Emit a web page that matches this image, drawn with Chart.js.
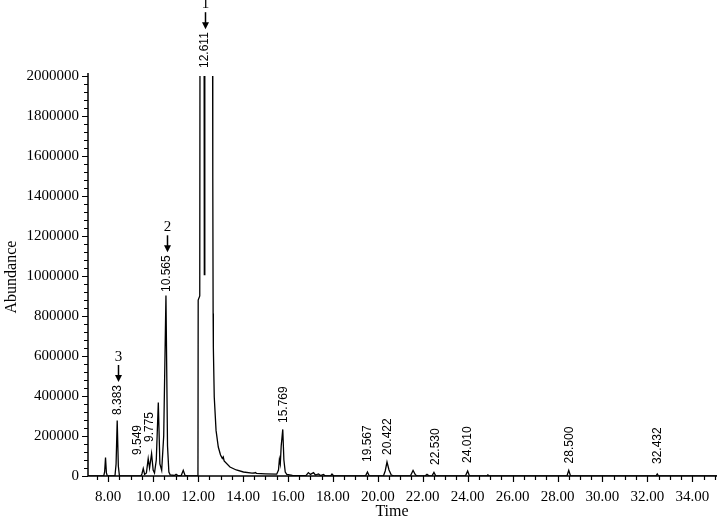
<!DOCTYPE html>
<html>
<head>
<meta charset="utf-8">
<script src="https://cdn.jsdelivr.net/npm/chart.js@4.4.1/dist/chart.umd.min.js"></script>
<style>
  html, body { margin: 0; padding: 0; background: #fff; }
  canvas { display: block; }
</style>
</head>
<body>
<canvas id="chromatogram" width="719" height="526"></canvas>
<script>
// retention time (min) and abundance
var times = [
  7.10, 7.80, 7.84, 7.88, 7.92, 7.96,
  8.30, 8.35, 8.40, 8.45, 8.50,
  9.45, 9.50, 9.56, 9.62, 9.70, 9.78, 9.84, 9.93, 10.00, 10.06, 10.14, 10.23, 10.30, 10.38,
  10.47, 10.57, 10.64, 10.70, 10.76, 10.95, 11.02, 11.10, 11.25, 11.34, 11.42, 11.55,
  11.995, 12.005, 12.075, 12.10, 12.18, 12.255, 12.278, 12.30, 12.45, 12.62, 12.655,
  12.67, 12.68, 12.72, 12.80, 12.90, 13.00, 13.08, 13.12, 13.16, 13.42, 13.70, 14.02,
  14.40, 14.50, 14.55, 14.60, 15.00, 15.50, 15.58, 15.62, 15.66, 15.70, 15.77, 15.82,
  15.88, 15.95, 16.20, 16.80, 16.91, 17.00, 17.06, 17.14, 17.22, 17.36, 17.45, 17.58,
  17.66, 17.90, 17.96, 18.03, 19.45, 19.54, 19.62, 20.25, 20.33, 20.41, 20.50, 20.60,
  20.75, 21.45, 21.57, 21.68, 21.80, 22.10, 22.19, 22.28, 22.42, 22.50, 22.58, 23.90,
  24.00, 24.08, 24.85, 24.90, 24.96, 28.42, 28.50, 28.58, 32.38, 32.44, 32.50, 35.10
];
var abundance = [
  0, 0, 20000, 92000, 15000, 0,
  0, 60000, 278000, 50000, 0,
  0, 10000, 37000, 8000, 15000, 87000, 40000, 112000, 30000, 15000, 80000, 367000, 60000, 28000,
  200000, 903000, 150000, 20000, 5000, 3000, 9000, 2000, 3000, 28000, 3000, 0,
  0, 880000, 900000, 4000000, 5200000, 4000000, 1007000, 4000000, 5500000, 4000000, 1500000,
  813000, 643000, 395000, 228000, 145000, 105000, 88000, 95000, 75000, 45000, 30000, 20000,
  14000, 15000, 17000, 13000, 11000, 9000, 30000, 83000, 60000, 150000, 233000, 80000,
  20000, 8000, 3000, 2000, 17000, 8000, 12000, 17000, 5000, 10000, 2000, 8000,
  1000, 1000, 10000, 1000, 0, 20000, 0, 0, 25000, 70000, 30000, 5000,
  0, 0, 28000, 5000, 0, 0, 8000, 1000, 2000, 18000, 1000, 0,
  25000, 0, 0, 6000, 0, 0, 28000, 0, 0, 10000, 0, 0
];

var xTickValues = [8, 10, 12, 14, 16, 18, 20, 22, 24, 26, 28, 30, 32, 34];
var yTickValues = [0, 200000, 400000, 600000, 800000, 1000000, 1200000, 1400000, 1600000, 1800000, 2000000];

// peak annotations: text, where it sits (time) and the abundance at its lower end
var peakLabels = ["8.383", "9.549", "9.775", "10.565", "12.611", "15.769", "19.567", "20.422", "22.530", "24.010", "28.500", "32.432"];
var peakLabelTimes = [8.42, 9.31, 9.86, 10.62, 12.31, 15.83, 19.56, 20.45, 22.59, 24.00, 28.55, 32.47];
var peakLabelLevels = [305000, 105000, 170000, 920000, 2040000, 265000, 70000, 105000, 55000, 65000, 63000, 60000];
// compound numbers with arrows, by index into peakLabels
var compoundNumbers = ["3", "2", "1"];
var compoundPeaks = [0, 3, 4];

var serif = "'Liberation Serif', 'DejaVu Serif', serif";
var sans = "'Liberation Sans', Arial, sans-serif";

var points = times.map(function (t, i) { return { x: t, y: abundance[i] }; });

var axesPlugin = {
  id: "axesPlugin",
  afterDraw: function (chart) {
    var ctx = chart.ctx;
    var area = chart.chartArea;
    var xs = chart.scales.x;
    var ys = chart.scales.y;
    ctx.save();
    ctx.strokeStyle = "#000";
    ctx.fillStyle = "#000";

    // axis lines
    ctx.lineWidth = 1.5;
    ctx.beginPath();
    ctx.moveTo(area.left, area.top - 3);
    ctx.lineTo(area.left, area.bottom);
    ctx.lineTo(area.right, area.bottom);
    ctx.stroke();

    // ticks, major and minor
    ctx.lineWidth = 1.2;
    ctx.beginPath();
    var v, px, len;
    for (v = 7.5; v <= 35; v += 0.5) {
      px = Math.round(xs.getPixelForValue(v)) + 0.5;
      len = (v % 2 === 0) ? 6 : 4;
      ctx.moveTo(px, area.bottom);
      ctx.lineTo(px, area.bottom + len);
    }
    for (v = 0; v <= 2000000; v += 40000) {
      px = Math.round(ys.getPixelForValue(v)) + 0.5;
      len = (v % 200000 === 0) ? 6 : 4;
      ctx.moveTo(area.left, px);
      ctx.lineTo(area.left - len, px);
    }
    ctx.stroke();

    // axis titles
    ctx.font = "16px " + serif;
    ctx.textAlign = "center";
    ctx.textBaseline = "middle";
    ctx.fillText("Time", 392, 512);
    ctx.save();
    ctx.translate(12, 277);
    ctx.rotate(-Math.PI / 2);
    ctx.fillText("Abundance", 0, 0);
    ctx.restore();

    // rotated peak labels
    ctx.font = "12px " + sans;
    var tops = [];
    peakLabels.forEach(function (txt, i) {
      var x = xs.getPixelForValue(peakLabelTimes[i]);
      var y = ys.getPixelForValue(peakLabelLevels[i]);
      ctx.save();
      ctx.translate(x, y);
      ctx.rotate(-Math.PI / 2);
      ctx.textAlign = "left";
      ctx.textBaseline = "middle";
      ctx.fillText(txt, 0, 0);
      ctx.restore();
      tops.push(y - ctx.measureText(txt).width);
    });

    // arrows and compound numbers
    compoundNumbers.forEach(function (num, k) {
      var i = compoundPeaks[k];
      var x = Math.round(xs.getPixelForValue(peakLabelTimes[i])) + 0.5;
      var top = tops[i];
      ctx.lineWidth = 1.5;
      ctx.beginPath();
      ctx.moveTo(x, top - 20);
      ctx.lineTo(x, top - 8);
      ctx.stroke();
      ctx.beginPath();
      ctx.moveTo(x - 3.5, top - 10);
      ctx.lineTo(x + 3.5, top - 10);
      ctx.lineTo(x, top - 3);
      ctx.closePath();
      ctx.fill();
      ctx.font = "15px " + serif;
      ctx.textAlign = "center";
      ctx.textBaseline = "middle";
      ctx.fillText(num, x, top - 28);
    });
    ctx.restore();
  }
};

var canvas = document.getElementById("chromatogram");
var chart = new Chart(canvas, {
  type: "scatter",
  data: {
    datasets: [{
      data: points,
      showLine: true,
      borderColor: "#000",
      borderWidth: 1.3,
      pointRadius: 0,
      tension: 0
    }]
  },
  options: {
    responsive: false,
    animation: false,
    layout: { padding: { top: 76, right: 2, left: 0, bottom: 0 } },
    plugins: {
      legend: { display: false },
      tooltip: { enabled: false }
    },
    scales: {
      x: {
        type: "linear",
        min: 7.1,
        max: 35.1,
        afterBuildTicks: function (scale) {
          scale.ticks = xTickValues.map(function (v) { return { value: v }; });
        },
        afterFit: function (scale) { scale.height = 50; },
        grid: { display: true, drawOnChartArea: false, color: "rgba(0,0,0,0)", tickLength: 6 },
        border: { display: false },
        ticks: {
          color: "#000",
          padding: 6,
          maxRotation: 0,
          autoSkip: false,
          font: { family: serif, size: 15 },
          callback: function (v) { return Number(v).toFixed(2); }
        }
      },
      y: {
        type: "linear",
        min: 0,
        max: 2000000,
        afterBuildTicks: function (scale) {
          scale.ticks = yTickValues.map(function (v) { return { value: v }; });
        },
        afterFit: function (scale) { scale.width = 88; },
        grid: { display: true, drawOnChartArea: false, color: "rgba(0,0,0,0)", tickLength: 6 },
        border: { display: false },
        ticks: {
          color: "#000",
          padding: 3,
          autoSkip: false,
          font: { family: serif, size: 15 },
          callback: function (v) { return String(v); }
        }
      }
    }
  },
  plugins: [axesPlugin]
});
</script>
</body>
</html>
